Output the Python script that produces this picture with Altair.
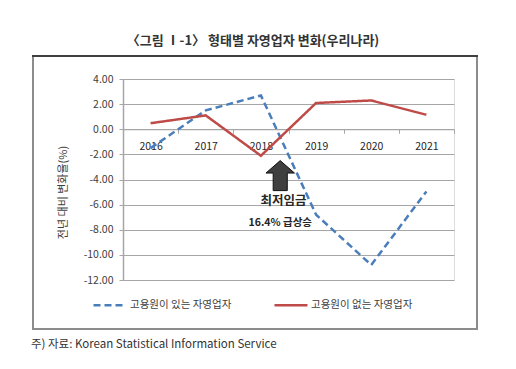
import altair as alt
import pandas as pd

# ---- data ----
years = [2016, 2017, 2018, 2019, 2020, 2021]
with_employees = [-1.50, 1.50, 2.69, -6.80, -10.80, -4.95]
without_employees = [0.48, 1.10, -2.11, 2.09, 2.29, 1.15]
series_names = ["고용원이 있는 자영업자", "고용원이 없는 자영업자"]
y_ticks = [-12, -10, -8, -6, -4, -2, 0, 2, 4]

title_text = "〈그림 Ⅰ-1〉 형태별 자영업자 변화(우리나라)"
source_text = "주) 자료: Korean Statistical Information Service"
y_title = "전년 대비 변화율(%)"
annot_lines = ["최저임금", "16.4% 급상승"]

# annotation anchor (data units)
arrow_pos = {"year": 2018.35, "value": -3.69}
annot_pos = [{"year": 2018.41, "value": -5.75}, {"year": 2018.35, "value": -7.5}]

rows = []
for yr, a, b in zip(years, with_employees, without_employees):
    rows.append({"year": yr, "value": a, "series": series_names[0]})
    rows.append({"year": yr, "value": b, "series": series_names[1]})
df = pd.DataFrame(rows)

FONT = "Noto Sans CJK KR"
W, H = 331, 201
BAND = W / 6.0

x_scale = alt.Scale(domain=[2015.5, 2021.5], nice=False, zero=False)
y_scale = alt.Scale(domain=[-12, 4], nice=False, zero=False)

legend = alt.Legend(
    orient="none", legendX=-31, legendY=208, direction="horizontal", title=None,
    symbolType="stroke", symbolSize=1089, symbolStrokeWidth=2.5,
    labelFont=FONT, labelFontSize=10.5, labelColor="#404040", labelOffset=2,
    columnPadding=37, labelLimit=300,
)
color = alt.Color("series:N", scale=alt.Scale(domain=series_names, range=["#4a7ebb", "#be4b48"]), legend=legend)
dash = alt.StrokeDash("series:N", scale=alt.Scale(domain=series_names, range=[[7, 4], [1, 0]]), legend=legend)

x_axis = alt.Axis(
    values=years, format="d", orient="bottom", offset=-(H * 0.75), tickOffset=BAND / 2,
    labelOffset=-BAND / 2, tickSize=4, tickColor="#a6a6a6", domainColor="#a6a6a6",
    domainWidth=1, labelFont=FONT, labelFontSize=10.5, labelColor="#262626",
    labelPadding=8, grid=False, title=None, labelFlush=False, labelOverlap=False,
)
y_axis = alt.Axis(
    values=y_ticks, tickCount=9,
    labelExpr="(datum.value < 0 ? '-' : '') + format(abs(datum.value), '.2f')",
    grid=True, gridColor="#a6a6a6", gridWidth=1, domainColor="#a6a6a6", domainWidth=1.5,
    tickColor="#a6a6a6", tickSize=4, labelFont=FONT, labelFontSize=10.5, labelColor="#404040",
    labelPadding=6, labelOverlap=False, labelFlush=False,
    title=y_title, titleFont=FONT, titleFontSize=11, titleFontWeight="normal",
    titleColor="#404040", titleX=-60, titleY=113, titleAlign="center", titleBaseline="middle",
    titleAngle=270,
)
x_enc = alt.X("year:Q", scale=x_scale, axis=x_axis)
y_enc = alt.Y("value:Q", scale=y_scale, axis=y_axis)

base = alt.Chart(df)
blue = base.transform_filter(alt.datum.series == series_names[0]).mark_line(strokeWidth=2.5).encode(
    x=x_enc, y=y_enc, color=color, strokeDash=dash)
red = base.transform_filter(alt.datum.series == series_names[1]).mark_line(strokeWidth=2.5).encode(
    x=x_enc, y=y_enc, color=color, strokeDash=dash)

one = pd.DataFrame({"k": [0]})
box = alt.Chart(one).mark_rect(fill=None, stroke="#8c8c8c", strokeWidth=2).encode(
    x=alt.value(-90), x2=alt.value(354), y=alt.value(-23), y2=alt.value(250))
topline = alt.Chart(one).mark_rule(stroke="#262626", strokeWidth=1.5).encode(
    x=alt.value(-91), x2=alt.value(355), y=alt.value(-23))
title = alt.Chart(one).mark_text(font=FONT, fontSize=13, fontWeight="bold", color="#333333",
                                 align="center", baseline="middle").encode(
    x=alt.value(130), y=alt.value(-38.5), text=alt.value(title_text))
source = alt.Chart(one).mark_text(font=FONT, fontSize=11.5, color="#333333",
                                  align="left", baseline="middle").encode(
    x=alt.value(-92), y=alt.value(266), text=alt.value(source_text))

arrow_path = "M0,-1 L0.95,-0.17 L0.47,-0.17 L0.47,1 L-0.47,1 L-0.47,-0.17 L-0.95,-0.17 Z"
arrow = alt.Chart(pd.DataFrame([arrow_pos])).mark_point(
    shape=arrow_path, size=900, filled=True, fill="#3f3f3f", stroke="#111111",
    strokeWidth=1, opacity=1).encode(x=x_enc, y=y_enc)

ann_df = pd.DataFrame([
    {"year": annot_pos[0]["year"], "value": annot_pos[0]["value"], "t": annot_lines[0]},
    {"year": annot_pos[1]["year"], "value": annot_pos[1]["value"], "t": annot_lines[1]},
])
ann1 = alt.Chart(ann_df.iloc[[0]]).mark_text(font=FONT, fontSize=12.5, fontWeight="bold",
                                              color="#262626", baseline="middle").encode(
    x=x_enc, y=y_enc, text="t:N")
ann2 = alt.Chart(ann_df.iloc[[1]]).mark_text(font=FONT, fontSize=10.5, fontWeight="bold",
                                              color="#262626", baseline="middle").encode(
    x=x_enc, y=y_enc, text="t:N")

chart = alt.layer(box, topline, title, source, blue, red, arrow, ann1, ann2).properties(
    width=W, height=H,
    autosize=alt.AutoSizeParams(type="none"),
    padding={"left": 115, "top": 71, "right": 54, "bottom": 80},
).configure_view(strokeWidth=0).configure(background="white")

chart.save("out.html", embed_options={"renderer": "svg", "actions": False})
